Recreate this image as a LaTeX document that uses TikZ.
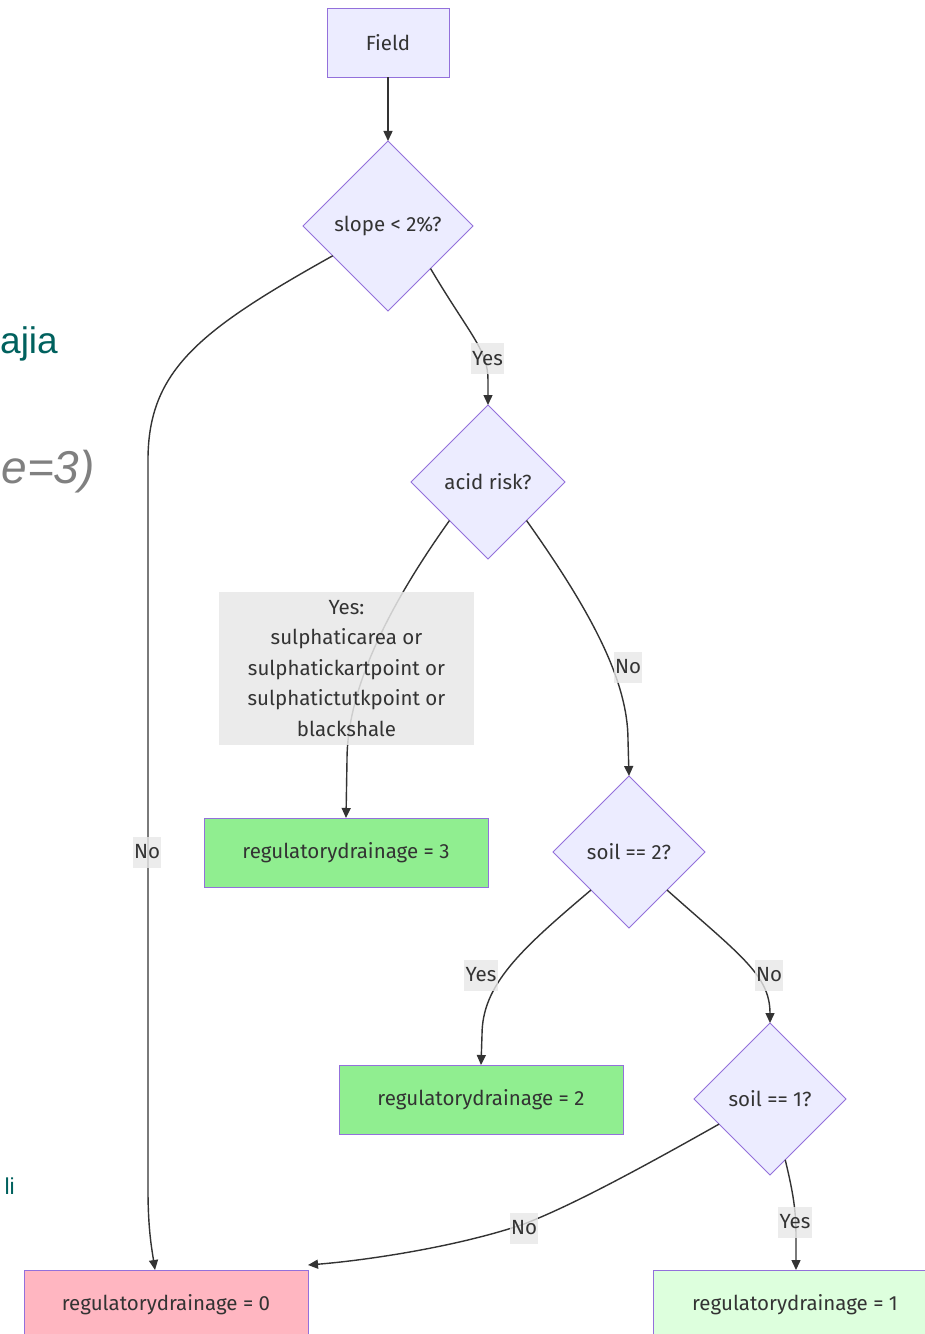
\documentclass[tikz,border=0pt]{standalone}
\usepackage{fontspec}
\setmainfont{Fira Sans}
\newfontfamily\slidefont{Liberation Sans}
\usetikzlibrary{shapes.geometric,arrows.meta,calc}
\definecolor{nodefill}{HTML}{ECECFF}
\definecolor{nodeline}{HTML}{9370DB}
\definecolor{txt}{HTML}{333333}
\definecolor{edge}{HTML}{333333}
\definecolor{lblbg}{HTML}{E8E8E8}
\definecolor{greenA}{HTML}{90EE90}
\definecolor{greenB}{HTML}{DDFFDD}
\definecolor{pinkA}{HTML}{FFB6C1}
\definecolor{teal}{HTML}{00615E}
\definecolor{slidegray}{HTML}{808080}
\tikzset{
  base/.style={draw=nodeline, line width=1pt, text=txt, font=\fontsize{20.5}{24}\selectfont, inner sep=0pt, outer sep=0pt},
  boxnode/.style={base, rectangle, fill=nodefill, minimum width=122pt, minimum height=69pt},
  resnode/.style={base, rectangle, minimum width=284pt, minimum height=69pt},
  decision/.style={base, diamond, aspect=1, fill=nodefill},
  conn/.style={draw=edge, line width=1.4pt, -{Triangle[length=10pt,width=9pt]}},
  lbl/.style={fill=lblbg, fill opacity=0.8, text opacity=1, text=txt, font=\fontsize{20.5}{24}\selectfont, inner sep=1.5pt, minimum height=31pt}
}
\begin{document}
\begin{tikzpicture}[x=1pt,y=-1pt]
\useasboundingbox (0,0) rectangle (925,1334);
\clip (0,0) rectangle (925,1334);
\fill[white] (0,0) rectangle (925,1334);
% stray slide texts
\node[anchor=base east, inner sep=0pt, text=teal, font=\slidefont\fontsize{37}{40}\selectfont] (s1) at (58,353) {ajia};
\node[anchor=base east, inner sep=0pt, text=slidegray, font=\slidefont\itshape\fontsize{46}{48}\selectfont] (s2) at (95,483) {e=3)};
\node[anchor=base east, inner sep=0pt, text=teal, font=\slidefont\fontsize{23}{25}\selectfont] (s3) at (15,1194) {li};
% nodes
\node[boxnode] (field) at (388,42.5) {Field};
\node[decision, minimum width=170pt, minimum height=170pt] (slope) at (388,226) {slope < 2\%?};
\node[decision, minimum width=154pt, minimum height=154pt] (acid) at (488,482) {acid risk?};
\node[decision, minimum width=152pt, minimum height=152pt] (soil2) at (629,852) {soil == 2?};
\node[decision, minimum width=152pt, minimum height=152pt] (soil1) at (770,1099) {soil == 1?};
\node[resnode, fill=greenA] (reg3) at (346,852.5) {regulatorydrainage = 3};
\node[resnode, fill=greenA] (reg2) at (481,1099.5) {regulatorydrainage = 2};
\node[resnode, fill=pinkA] (reg0) at (166,1304.5) {regulatorydrainage = 0};
\node[resnode, fill=greenB] (reg1) at (795,1304.5) {regulatorydrainage = 1};
% edges
\draw[conn] (field) -- (slope);
\draw[conn] (slope.south east) .. controls (470,335) and (488,350) .. (488,380) -- (acid.north);
\draw[conn] ($(slope.west)!0.35!(slope.south)$) .. controls (200,330) and (148,370) .. (148,460) -- (148,1190) .. controls (148,1230) and (152,1250) .. ([xshift=-11pt]reg0.north);
\draw[conn] (acid.south west) .. controls (400,590) and (347,680) .. (347,760) -- (reg3.north);
\draw[conn] (acid.south east) .. controls (590,610) and (628,680) .. (628,740) -- (soil2.north);
\draw[conn] (soil2.south west) .. controls (520,950) and (482,985) .. (482,1035) -- (reg2.north);
\draw[conn] (soil2.south east) .. controls (740,955) and (770,975) .. (soil1.north);
\draw[conn] ($(soil1.west)!0.33!(soil1.south)$) .. controls (620,1180) and (565,1208) .. (524,1224) .. controls (460,1246) and (370,1260) .. ([yshift=5pt]reg0.north east);
\draw[conn] ($(soil1.east)!0.8!(soil1.south)$) .. controls (795,1200) and (796,1215) .. (796,1240) -- ([xshift=1pt]reg1.north);
% edge labels
\node[lbl] (lyes1) at (487.5,358.5) {Yes};
\node[lbl] (lno1) at (147,852) {No};
\node[lbl, fill opacity=0.85, minimum width=255pt, minimum height=153pt, align=center, font=\fontsize{20.5}{30.5}\selectfont] (lacid) at (346.5,668.5) {Yes:\\sulphaticarea or\\sulphatickartpoint or\\sulphatictutkpoint or\\blackshale};
\node[lbl] (lno2) at (628,667) {No};
\node[lbl] (lyes2) at (481,975) {Yes};
\node[lbl] (lno3) at (769,975) {No};
\node[lbl] (lno4) at (524,1228) {No};
\node[lbl] (lyes3) at (795,1222) {Yes};
\end{tikzpicture}
\end{document}
